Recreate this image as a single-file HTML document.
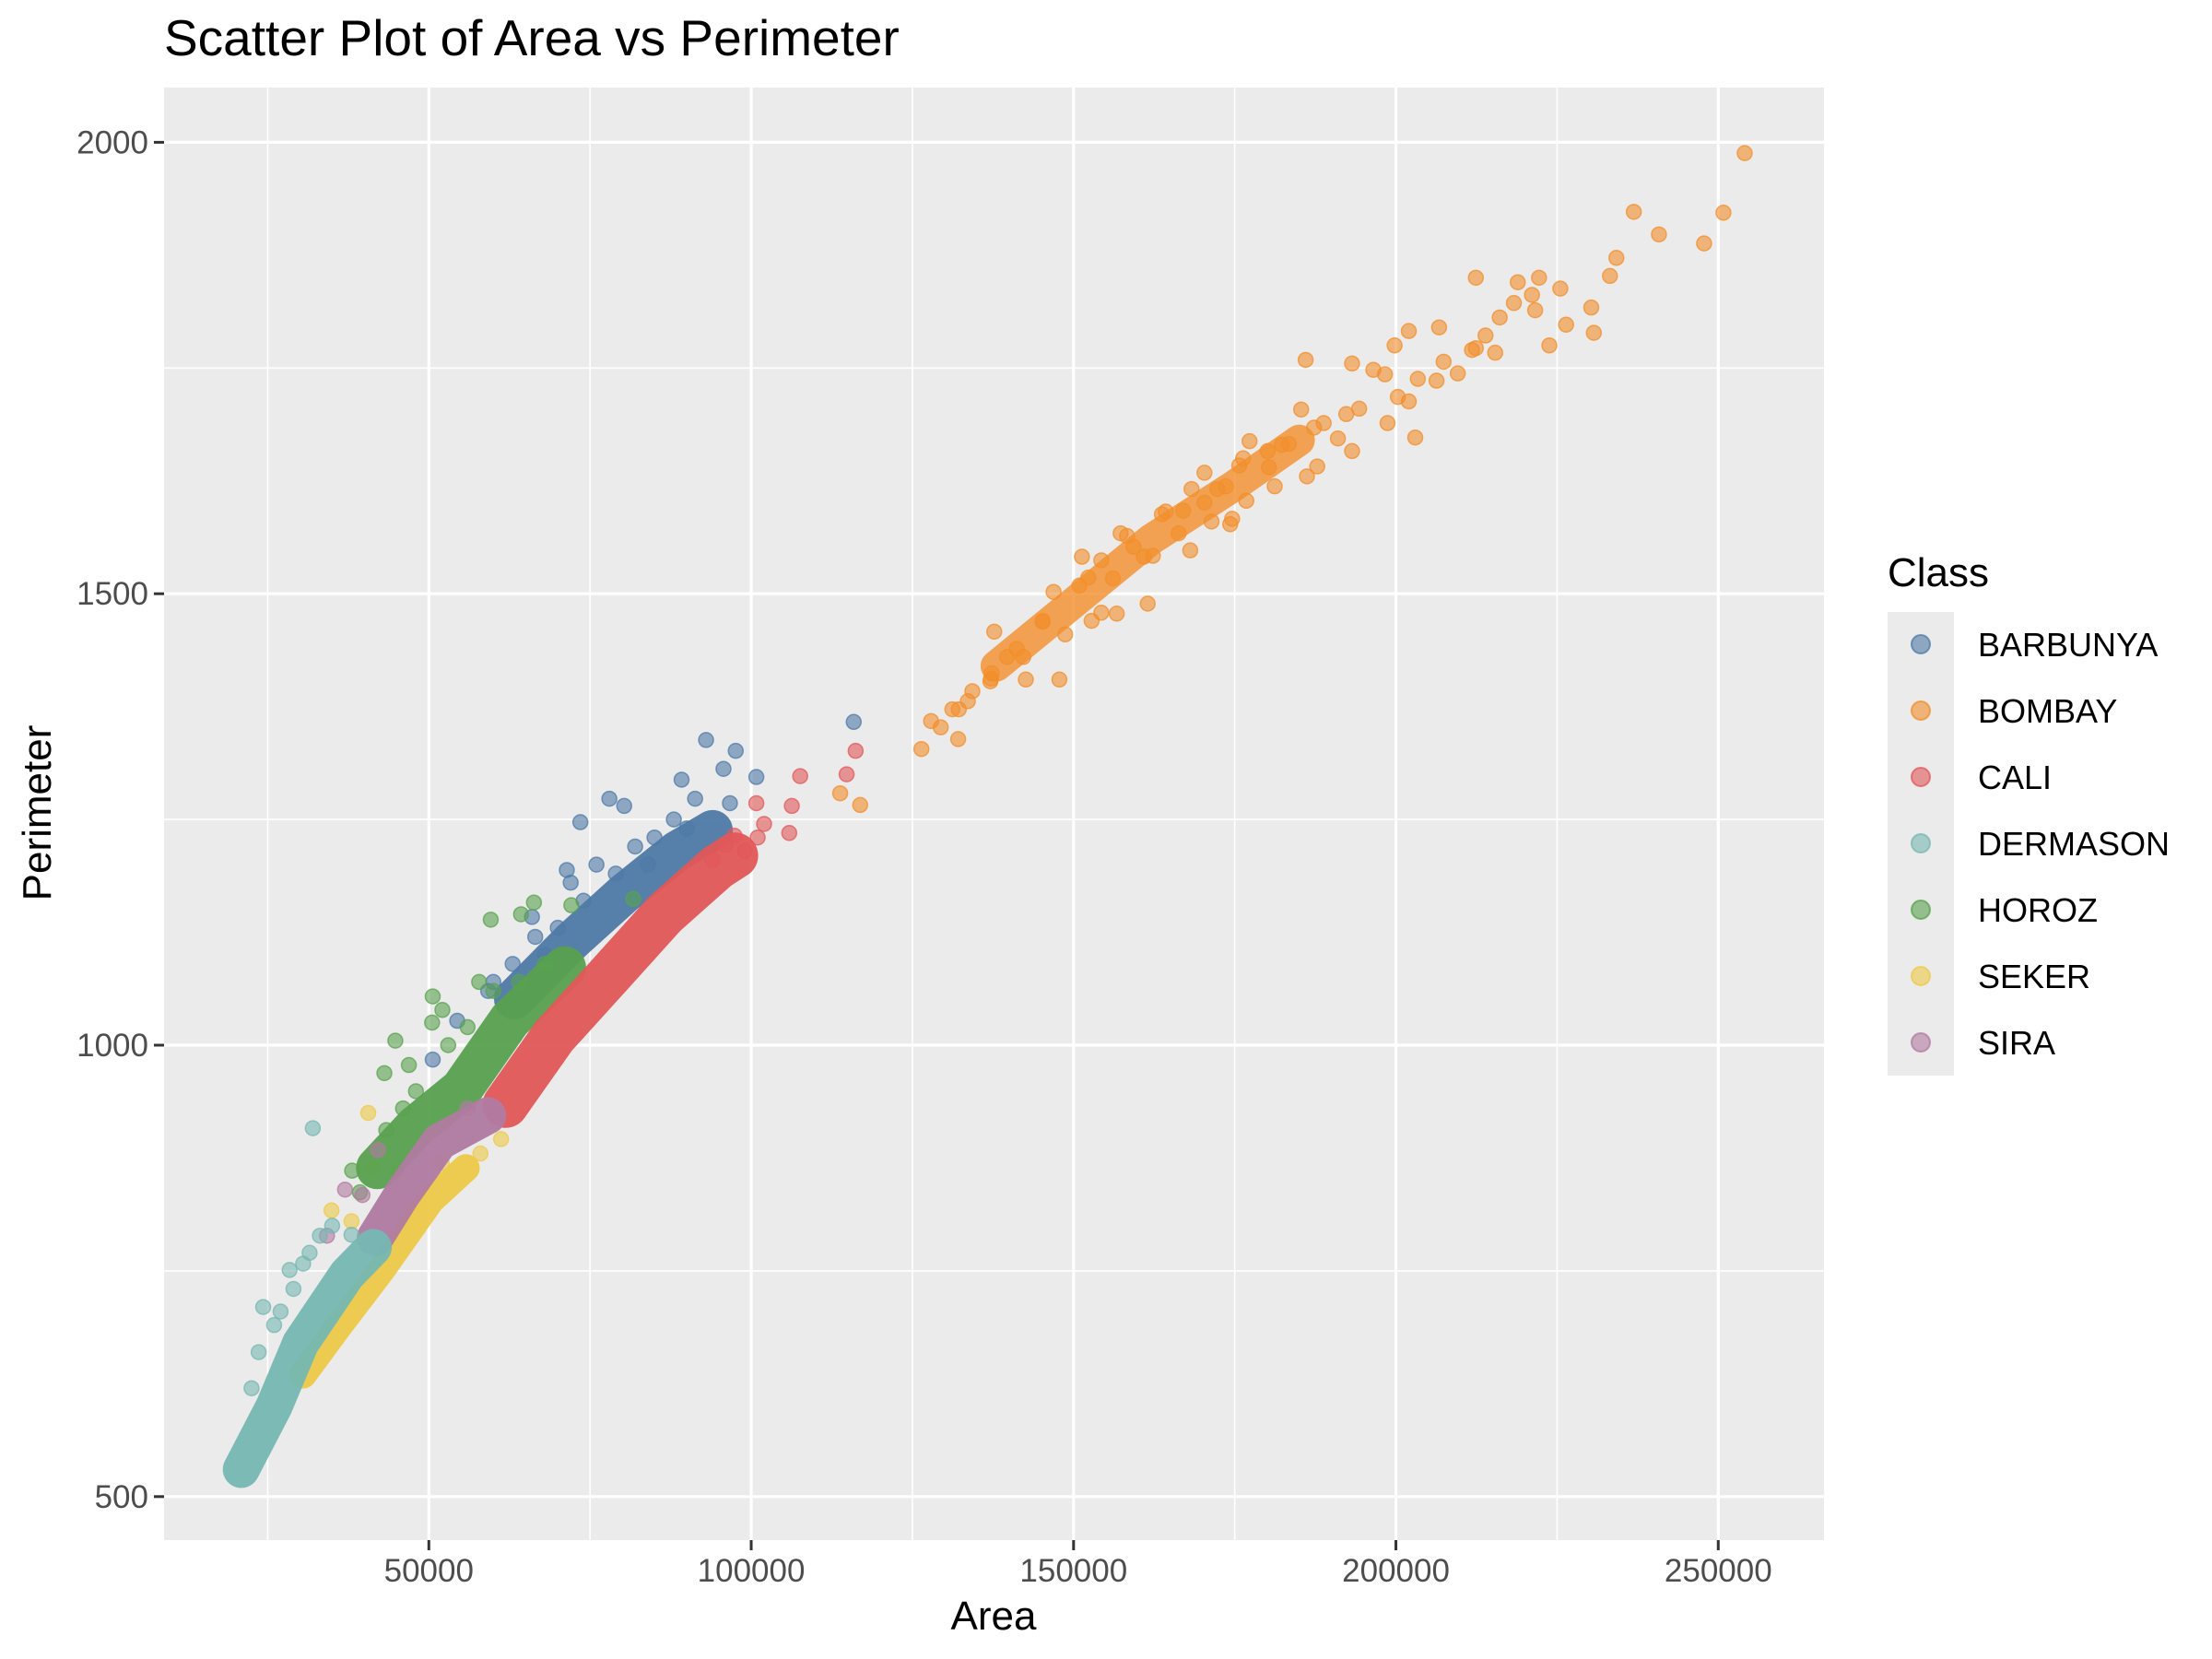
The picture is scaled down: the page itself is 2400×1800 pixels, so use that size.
<!DOCTYPE html>
<html><head><meta charset="utf-8">
<style>
html,body{margin:0;padding:0;background:#fff;}
svg{display:block;font-family:"Liberation Sans",Arial,sans-serif;}
</style></head>
<body>
<svg id="chart" width="2400" height="1800" viewBox="0 0 2400 1800" xmlns="http://www.w3.org/2000/svg">
<rect width="2400" height="1800" fill="#ffffff"/>
<text x="178" y="60" font-size="55" fill="#000">Scatter Plot of Area vs Perimeter</text>
<rect x="178" y="95" width="1801" height="1576" fill="#ebebeb"/>
<g id="grid"></g>
<g id="marks"></g>
<g id="axes"></g>
<text x="1078" y="1768" font-size="44" text-anchor="middle" fill="#000">Area</text>
<text x="0" y="0" font-size="44" text-anchor="middle" fill="#000" transform="translate(55,882) rotate(-90)">Perimeter</text>
<g id="legend">
<text x="2048" y="636" font-size="44" fill="#000">Class</text>
<rect x="2048" y="664" width="72" height="503" fill="#ebebeb"/>
</g>
</svg>
<script>
const xTicks = [50000, 100000, 150000, 200000, 250000];
const xMinor = [25000, 75000, 125000, 175000, 225000];
const yTicks = [500, 1000, 1500, 2000];
const yMinor = [750, 1250, 1750];
const classes = ["BARBUNYA","BOMBAY","CALI","DERMASON","HOROZ","SEKER","SIRA"];
const colors = {BARBUNYA:"#4e79a7",BOMBAY:"#f28e2b",CALI:"#e15759",DERMASON:"#76b7b2",HOROZ:"#59a14f",SEKER:"#edc948",SIRA:"#b07aa1"};

// dense cores (centerlines of dense clusters): [area, perimeter]
const coreBARBUNYA = [[63250,1051],[72100,1115],[80300,1168],[88500,1215],[94000,1238]];
const coreBOMBAY = [[138000,1420],[150000,1490],[162000,1560],[175000,1620],[185000,1670]];
const coreSEKER = [[30460,635],[35930,688],[42760,752],[50270,828],[55740,864]];
const coreHOROZ = [[42000,864],[48000,910],[55050,951],[62560,1028],[71100,1086]];
const coreCALI = [[61900,934],[69400,1010],[78300,1080],[86500,1145],[94700,1197],[97500,1210]];
const coreSIRA = [[41700,787],[45800,834],[51640,893],[59150,922]];
const coreDERMASON = [[20900,530],[26000,600],[30120,670],[37300,746],[41400,776]];

// individual points
const ptsBARBUNYA = [[115900,1358],[93000,1338],[97600,1326],[78000,1273],[89200,1294],[100800,1297],[73500,1247],[71400,1194],[66000,1142],[59200,1060],[54400,1027],[50600,984],[95700,1306],[80300,1265],[91300,1273],[96700,1268],[85000,1230],[76000,1200],[70000,1130],[63000,1090],[88000,1250],[82000,1220],[68000,1100],[74000,1160],[79000,1190],[84000,1200],[90000,1240],[60000,1070],[66500,1120],[72000,1180]];
const ptsBOMBAY = [[126400,1328],[127900,1359],[129400,1352],[132100,1339],[131200,1372],[133600,1381],[134300,1392],[137100,1403],[137700,1458],[137300,1412],[139700,1430],[141200,1439],[142600,1405],[145200,1470],[147800,1405],[146900,1502],[148700,1455],[150900,1509],[152800,1470],[151300,1541],[156100,1517],[158300,1564],[156700,1478],[161500,1489],[160900,1541],[163700,1588],[167000,1592],[168100,1548],[170300,1634],[171400,1580],[173600,1619],[175700,1642],[176800,1603],[174600,1583],[180100,1658],[181200,1619],[183400,1666],[186200,1630],[186000,1759],[188800,1689],[187800,1641],[191000,1672],[194300,1705],[193200,1658],[196500,1748],[198700,1689],[199800,1775],[202000,1713],[203000,1673],[206300,1736],[206700,1795],[209600,1744],[211800,1770],[212400,1850],[213900,1786],[216100,1806],[215400,1767],[218300,1822],[218900,1845],[221600,1814],[222200,1850],[223800,1775],[225500,1838],[226400,1798],[230300,1817],[230700,1789],[233200,1852],[234200,1872],[236900,1923],[240800,1898],[247800,1888],[250800,1922],[254100,1988],[202000,1791],[193200,1755],[221100,1831],[113800,1279],[116900,1266],[157300,1567],[162300,1542],[166300,1567],[172300,1616],[174300,1577],[180300,1640],[182300,1665],[187300,1684],[192300,1699],[200300,1718],[203400,1738],[207400,1757],[152300,1518],[154300,1479],[145200,1469],[142200,1430],[137200,1406],[132200,1372],[164300,1591],[168300,1616],[176300,1650],[185300,1704],[198300,1743],[212400,1772],[154300,1537],[159300,1552],[170300,1601],[177300,1669]];
const ptsCALI = [[116200,1326],[114800,1300],[107600,1298],[106300,1265],[100800,1268],[105900,1235],[97400,1232],[102000,1245],[99000,1215],[94000,1205],[101000,1230],[96000,1222]];
const ptsHOROZ = [[59600,1139],[66300,1158],[64300,1145],[72100,1155],[50600,1054],[52100,1039],[50500,1025],[57800,1070],[44800,1005],[43100,969],[46900,978],[48000,949],[43400,906],[38100,861],[39300,837],[81700,1162],[53000,1000],[60000,1060],[56000,1020],[64000,1070],[68000,1090],[46000,930]];
const ptsSEKER = [[40600,925],[61200,896],[34900,817],[41300,865],[38000,805],[45000,860],[52000,870],[58000,880]];
const ptsDERMASON = [[32000,908],[24300,710],[28400,751],[30500,758],[33100,789],[23600,660],[27000,705],[35000,800],[38000,790],[26000,690],[29000,730],[22500,620],[31500,770]];
const ptsSIRA = [[42100,884],[34200,789],[39700,834],[37000,840],[56000,930]];

const X0=465.3, XS=349.75/50000, Y0=1134, YS=489.8/500;
const L=178, R=1979, T=95, B=1671;
function xs(v){return X0+(v-50000)*XS;}
function ys(v){return Y0-(v-1000)*YS;}
const NS="http://www.w3.org/2000/svg";
function mk(tag,attrs,parent){const e=document.createElementNS(NS,tag);for(const k in attrs)e.setAttribute(k,attrs[k]);parent.appendChild(e);return e;}

const grid=document.getElementById('grid');
xMinor.forEach(v=>{const l=mk('line',{x1:xs(v),x2:xs(v),y1:T,y2:B,stroke:'#fff','stroke-width':1.6},grid);

});
yMinor.forEach(v=>{const l=mk('line',{x1:L,x2:R,y1:ys(v),y2:ys(v),stroke:'#fff','stroke-width':1.6},grid);

});
xTicks.forEach(v=>{const l=mk('line',{x1:xs(v),x2:xs(v),y1:T,y2:B,stroke:'#fff','stroke-width':3.2},grid);

});
yTicks.forEach(v=>{const l=mk('line',{x1:L,x2:R,y1:ys(v),y2:ys(v),stroke:'#fff','stroke-width':3.2},grid);

});

const axes=document.getElementById('axes');
xTicks.forEach(v=>{const t=mk('line',{x1:xs(v),x2:xs(v),y1:B,y2:B+11,stroke:'#333','stroke-width':3},axes);


const tx=mk('text',{x:xs(v),y:B+45,'font-size':35,fill:'#4d4d4d','text-anchor':'middle'},axes);tx.textContent=v;

});
yTicks.forEach(v=>{const t=mk('line',{x1:L-11,x2:L,y1:ys(v),y2:ys(v),stroke:'#333','stroke-width':3},axes);


const tx=mk('text',{x:L-17,y:ys(v)+12,'font-size':35,fill:'#4d4d4d','text-anchor':'end'},axes);tx.textContent=v;

});

const cores={BARBUNYA:coreBARBUNYA,BOMBAY:coreBOMBAY,CALI:coreCALI,DERMASON:coreDERMASON,HOROZ:coreHOROZ,SEKER:coreSEKER,SIRA:coreSIRA};
const pts={BARBUNYA:ptsBARBUNYA,BOMBAY:ptsBOMBAY,CALI:ptsCALI,DERMASON:ptsDERMASON,HOROZ:ptsHOROZ,SEKER:ptsSEKER,SIRA:ptsSIRA};
const widths={BARBUNYA:44,BOMBAY:34,CALI:50,DERMASON:40,HOROZ:46,SEKER:30,SIRA:40};
const order=["BARBUNYA","BOMBAY","SEKER","HOROZ","CALI","SIRA","DERMASON"];
const marks=document.getElementById('marks');
order.forEach(c=>{
  const g=mk('g',{},marks);
  
  
  pts[c].forEach(p=>{const ci=mk('circle',{cx:xs(p[0]),cy:ys(p[1]),r:8,fill:colors[c],'fill-opacity':0.6,stroke:colors[c],'stroke-opacity':0.75,'stroke-width':1.5},g);
    
    });
  const d=cores[c].map((p,i)=>(i?'L':'M')+xs(p[0]).toFixed(1)+' '+ys(p[1]).toFixed(1)).join(' ');
  const pa=mk('path',{d:d,fill:'none',stroke:colors[c],'stroke-width':widths[c],'stroke-linecap':'round','stroke-linejoin':'round','stroke-opacity':c==='BOMBAY'?0.8:0.95},g);
  
  
});

const leg=document.getElementById('legend');
classes.forEach((c,i)=>{
  const y=699+i*72;
  const ci=mk('circle',{cx:2084,cy:y,r:10,fill:colors[c],'fill-opacity':0.6,stroke:colors[c],'stroke-opacity':0.75,'stroke-width':2},leg);
  
  
  const t=mk('text',{x:2146,y:y+13,'font-size':36,fill:'#000'},leg);t.textContent=c;
  
  
});
</script>
</body></html>
